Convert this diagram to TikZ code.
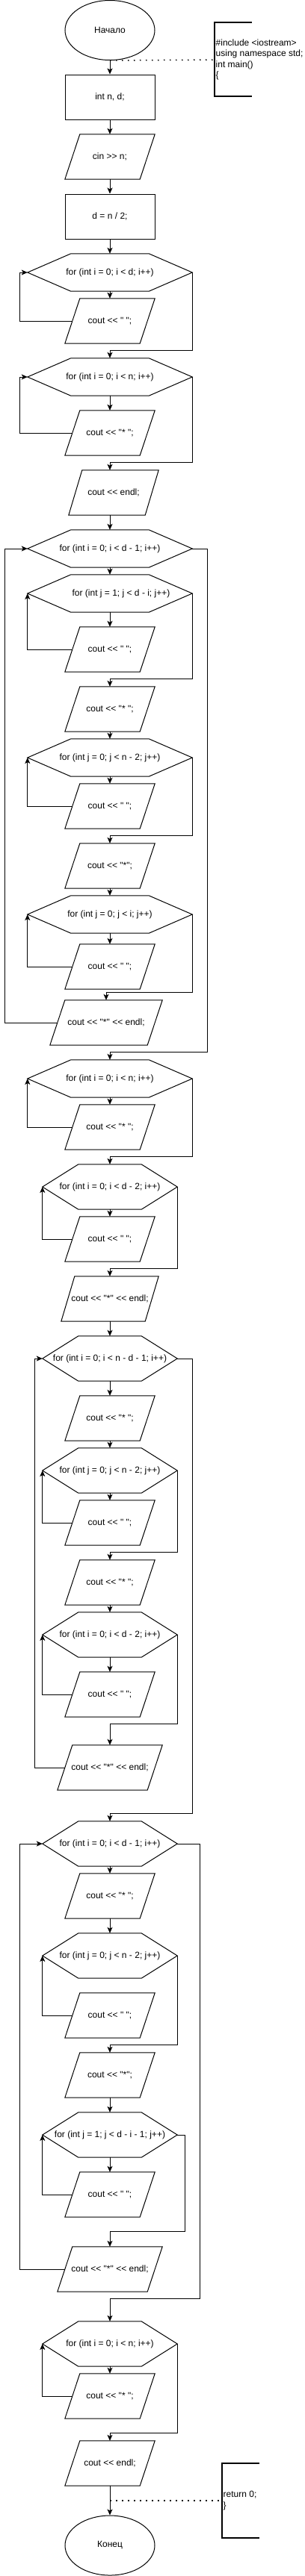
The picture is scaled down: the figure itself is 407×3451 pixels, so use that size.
\documentclass[tikz,border=0pt]{standalone}
\usepackage{fontspec}
\newfontfamily\dfont{Liberation Sans}
\usetikzlibrary{shapes.geometric,arrows.meta}
\tikzset{
 base/.style={draw=none, inner sep=0pt, font=\dfont\fontsize{12}{14.4}\selectfont, align=center},
 oval/.style={base, draw, line width=1pt, ellipse, minimum width=120pt, minimum height=80pt},
 proc/.style={base, draw, line width=1pt, rectangle, minimum width=120pt, minimum height=60pt},
 io/.style={base, minimum width=#1, minimum height=60pt}, io/.default=120pt,
 hexa/.style={base, minimum width=220pt, minimum height=50pt},
 hexb/.style={base, minimum width=180pt, minimum height=60pt},
 arr/.style={line width=1pt, -{Stealth[length=8pt,width=7pt,inset=2pt]}},
 outline/.style={line width=1pt, line join=miter},
 note/.style={base, align=left, anchor=west},
 dots/.style={line width=1.5pt, dash pattern=on 1.5pt off 6.5pt},
 brace/.style={line width=2pt},
}
\newcommand\hexout[2]{\draw[outline] (#1.west) -- ([xshift=#2]#1.north west) -- ([xshift=-#2]#1.north east) -- (#1.east) -- ([xshift=-#2]#1.south east) -- ([xshift=#2]#1.south west) -- cycle;}
\newcommand\parout[2]{\draw[outline] (#1.south west) -- ([xshift=#2]#1.north west) -- (#1.north east) -- ([xshift=-#2]#1.south east) -- cycle;}
\begin{document}
\begin{tikzpicture}[x=1pt,y=-1pt]
\fill[white] (0,0) rectangle (407,3451);
\useasboundingbox (0,0) rectangle (407,3451);

% ---------- nodes ----------
\node[oval] (start) at (147,40.5) {Начало};
\node[proc] (r1) at (147,130) {int n, d;};
\node[io] (p1) at (147,210) {cin >> n;}; \parout{p1}{20pt}
\node[proc] (r2) at (147,290) {d = n / 2;};
\node[hexa] (h1) at (147,365) {for (int i = 0; i < d; i++)}; \hexout{h1}{58pt}
\node[io] (c1) at (147,430) {cout << " ";}; \parout{c1}{20pt}
\node[hexa] (h2) at (147,505) {for (int i = 0; i < n; i++)}; \hexout{h2}{58pt}
\node[io] (c2) at (147,580) {cout << "* ";}; \parout{c2}{20pt}
\node[io] (c3) at (152,660) {cout << endl;}; \parout{c3}{18pt}
\node[hexa] (h3) at (147,735) {for (int i = 0; i < d - 1; i++)}; \hexout{h3}{58pt}
\node[hexa] (h4) at (147,795) {\hspace*{30pt}for (int j = 1; j < d - i; j++)}; \hexout{h4}{58pt}
\node[io] (c4) at (147,870) {cout << " ";}; \parout{c4}{20pt}
\node[io] (c5) at (147,950) {cout << "* ";}; \parout{c5}{20pt}
\node[hexa] (h5) at (147,1015) {for (int j = 0; j < n - 2; j++)}; \hexout{h5}{58pt}
\node[io] (c6) at (147,1080) {cout << " ";}; \parout{c6}{20pt}
\node[io] (c7) at (147,1160) {cout << "*";}; \parout{c7}{20pt}
\node[hexa] (h6) at (147,1225) {for (int j = 0; j < i; j++)}; \hexout{h6}{58pt}
\node[io] (c8) at (147,1295) {cout << " ";}; \parout{c8}{20pt}
\node[io=150pt] (c9) at (142,1370) {cout << "*" << endl;}; \parout{c9}{20pt}
\node[hexa] (h7) at (147,1445) {for (int i = 0; i < n; i++)}; \hexout{h7}{58pt}
\node[io] (c10) at (147,1510) {cout << "* ";}; \parout{c10}{20pt}
\node[hexb] (h8) at (147,1590) {for (int i = 0; i < d - 2; i++)}; \hexout{h8}{48pt}
\node[io] (c11) at (147,1660) {cout << " ";}; \parout{c11}{20pt}
\node[io=130pt] (c12) at (147,1740) {cout << "*" << endl;}; \parout{c12}{18pt}
\node[hexb] (h9) at (147,1820) {for (int i = 0; i < n - d - 1; i++)}; \hexout{h9}{48pt}
\node[io] (c13) at (147,1900) {cout << "* ";}; \parout{c13}{20pt}
\node[hexb] (h10) at (147,1970) {for (int j = 0; j < n - 2; j++)}; \hexout{h10}{48pt}
\node[io] (c14) at (147,2040) {cout << " ";}; \parout{c14}{20pt}
\node[io] (c15) at (147,2120) {cout << "* ";}; \parout{c15}{20pt}
\node[hexb] (h11) at (147,2190) {for (int i = 0; i < d - 2; i++)}; \hexout{h11}{48pt}
\node[io] (c16) at (147,2270) {cout << " ";}; \parout{c16}{20pt}
\node[io=140pt] (c17) at (147,2368) {cout << "*" << endl;}; \parout{c17}{20pt}
\node[hexb] (h12) at (147,2470) {for (int i = 0; i < d - 1; i++)}; \hexout{h12}{48pt}
\node[io] (c18) at (147,2540) {cout << "* ";}; \parout{c18}{20pt}
\node[hexb] (h13) at (147,2620) {for (int j = 0; j < n - 2; j++)}; \hexout{h13}{48pt}
\node[io] (c19) at (147,2700) {cout << " ";}; \parout{c19}{20pt}
\node[io] (c20) at (147,2780) {cout << "*";}; \parout{c20}{20pt}
\node[hexb] (h14) at (147,2860) {for (int j = 1; j < d - i - 1; j++)}; \hexout{h14}{48pt}
\node[io] (c21) at (147,2940) {cout << " ";}; \parout{c21}{20pt}
\node[io=140pt] (c22) at (147,3040) {cout << "*" << endl;}; \parout{c22}{20pt}
\node[hexb] (h15) at (147,3140) {for (int i = 0; i < n; i++)}; \hexout{h15}{48pt}
\node[io] (c23) at (147,3210) {cout << "* ";}; \parout{c23}{20pt}
\node[io] (c24) at (147,3300) {cout << endl;}; \parout{c24}{20pt}
\node[oval] (end) at (147,3410) {Конец};

% ---------- annotations ----------
\node[note] (n1) at (288.5,80) {\#include <iostream>\\using namespace std;\\int main()\\\{};
\coordinate (b1) at (287,80);
\draw[brace] (337,30) -- (287,30) -- (287,129) -- (337,129);
\draw[dots] (start.south) -- (b1);
\node[note] (n2) at (298.5,3350) {return 0;\\\}};
\coordinate (b2) at (297,3350);
\draw[brace] (347,3300) -- (297,3300) -- (297,3400) -- (347,3400);
\draw[dots] (c24.south |- b2) -- (b2);

% ---------- connectors ----------
\draw[arr] (start) -- (r1);
\draw[arr] (r1) -- (p1);
\draw[arr] (p1) -- (r2);
\draw[arr] (r2) -- (h1);
\draw[arr] (h1) -- (c1);
\draw[arr] ([xshift=10pt]c1.west) -| ([xshift=-10pt]h1.west) -- (h1.west);
\draw[arr] (h1.east) |- ([yshift=10pt]h2.north) -- (h2.north);
\draw[arr] (h2) -- (c2);
\draw[arr] ([xshift=10pt]c2.west) -| ([xshift=-10pt]h2.west) -- (h2.west);
\draw[arr] (h2.east) |- ([yshift=10pt]h2.south |- c3.north) -- (h2.south |- c3.north);
\draw[arr] (c3.south -| h3.north) -- (h3.north);
\draw[arr] (h3) -- (h4);
\draw[arr] (h4) -- (c4);
\draw[arr] ([xshift=10pt]c4.west) -| (h4.west);
\draw[arr] (h4.east) |- ([yshift=10pt]c5.north) -- (c5.north);
\draw[arr] (c5) -- (h5);
\draw[arr] (h5) -- (c6);
\draw[arr] ([xshift=10pt]c6.west) -| (h5.west);
\draw[arr] (h5.east) |- ([yshift=10pt]c7.north) -- (c7.north);
\draw[arr] (c7) -- (h6);
\draw[arr] (h6) -- (c8);
\draw[arr] ([xshift=10pt]c8.west) -| (h6.west);
\draw[arr] (h6.east) |- ([yshift=10pt]c9.north) -- (c9.north);
\draw[arr] ([xshift=10pt]c9.west) -| ([xshift=-30pt]h3.west) -- (h3.west);
\draw[arr] (h3.east) -- ([xshift=20pt]h3.east) |- ([yshift=10pt]h7.north) -- (h7.north);
\draw[arr] (h7) -- (c10);
\draw[arr] ([xshift=10pt]c10.west) -| (h7.west);
\draw[arr] (h7.east) |- ([yshift=10pt]h8.north) -- (h8.north);
\draw[arr] (h8) -- (c11);
\draw[arr] ([xshift=10pt]c11.west) -| (h8.west);
\draw[arr] (h8.east) |- ([yshift=10pt]c12.north) -- (c12.north);
\draw[arr] (c12) -- (h9);
\draw[arr] (h9) -- (c13);
\draw[arr] (c13) -- (h10);
\draw[arr] (h10) -- (c14);
\draw[arr] ([xshift=10pt]c14.west) -| (h10.west);
\draw[arr] (h10.east) |- ([yshift=10pt]c15.north) -- (c15.north);
\draw[arr] (c15) -- (h11);
\draw[arr] (h11) -- (c16);
\draw[arr] ([xshift=10pt]c16.west) -| (h11.west);
\draw[arr] (h11.east) |- ([yshift=28pt]c17.north) -- (c17.north);
\draw[arr] ([xshift=10pt]c17.west) -| ([xshift=-10pt]h9.west) -- (h9.west);
\draw[arr] (h9.east) -- ([xshift=20pt]h9.east) |- ([yshift=10pt]h12.north) -- (h12.north);
\draw[arr] (h12) -- (c18);
\draw[arr] (c18) -- (h13);
\draw[arr] ([xshift=10pt]c19.west) -| (h13.west);
\draw[arr] (h13.east) |- ([yshift=10pt]c20.north) -- (c20.north);
\draw[arr] (c20) -- (h14);
\draw[arr] (h14) -- (c21);
\draw[arr] ([xshift=10pt]c21.west) -| (h14.west);
\draw[arr] (h14.east) -- ([xshift=10pt]h14.east) |- ([yshift=20pt]c22.north) -- (c22.north);
\draw[arr] ([xshift=10pt]c22.west) -| ([xshift=-30pt]h12.west) -- (h12.west);
\draw[arr] (h12.east) -- ([xshift=30pt]h12.east) |- ([yshift=30pt]h15.north) -- (h15.north);
\draw[arr] (h15) -- (c23);
\draw[arr] ([xshift=10pt]c23.west) -| (h15.west);
\draw[arr] (h15.east) |- ([yshift=10pt]c24.north) -- (c24.north);
\draw[arr] (c24) -- (end);
\end{tikzpicture}
\end{document}
